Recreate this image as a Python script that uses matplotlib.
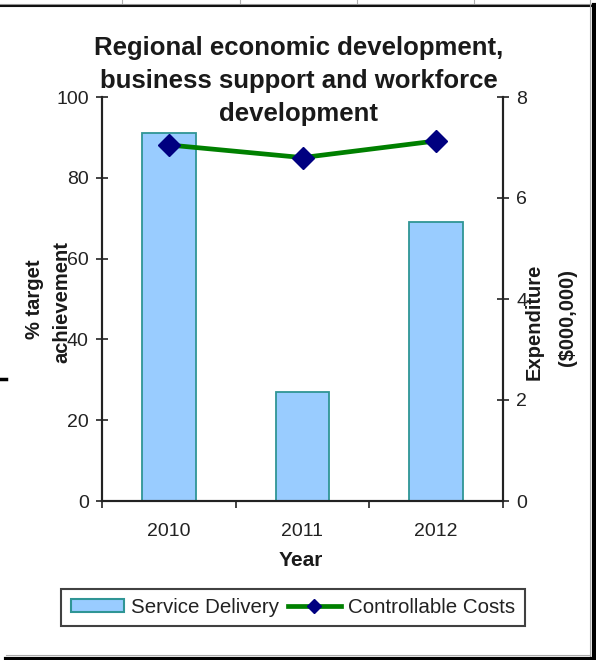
import matplotlib
matplotlib.use("Agg")
import matplotlib.pyplot as plt
from matplotlib.lines import Line2D
from matplotlib.patches import Patch

years = ["2010", "2011", "2012"]
service_delivery = [91, 27, 69]          # % target achievement
controllable_costs = [7.05, 6.8, 7.13]   # expenditure, $000,000
left_ticks = [0, 20, 40, 60, 80, 100]
right_ticks = [0, 2, 4, 6, 8]

W, H = 596, 660
FONT = "Liberation Sans"
plt.rcParams["font.family"] = [FONT, "DejaVu Sans"]

fig = plt.figure(figsize=(W / 100, H / 100), dpi=100)

def fx(px):
    return px / W

def fy(py):
    return 1 - py / H

ax = fig.add_axes([fx(102), fy(501), fx(503) - fx(102), fy(97) - fy(501)])
ax2 = ax.twinx()

x = list(range(1, len(years) + 1))
bar_fill = "#99CCFF"
bar_edge = "#2F9595"
ax.bar(x, service_delivery, width=0.4, color=bar_fill, edgecolor=bar_edge,
       linewidth=1.3, zorder=2)
ax2.plot(x, controllable_costs, color="#008000", linewidth=3.4,
         marker="D", markersize=11, markerfacecolor="#000080",
         markeredgecolor="#000080", zorder=3)

ax.set_xlim(0.5, len(years) + 0.5)
ax.set_ylim(0, 100)
ax2.set_ylim(0, 8)
ax.set_yticks(left_ticks)
ax2.set_yticks(right_ticks)

# category boundaries as major ticks, labels on minor ticks at centres
ax.set_xticks([0.5 + i for i in range(len(years) + 1)])
ax.set_xticklabels([])
ax.set_xticks(x, minor=True)
ax.set_xticklabels(years, minor=True)
ax.tick_params(axis="x", which="major", direction="out", length=5, width=1.2,
               color="#222222")
ax.tick_params(axis="x", which="minor", length=0, pad=16, labelsize=14,
               labelcolor="#222222")
ax.tick_params(axis="y", direction="inout", length=9, width=1.2, pad=5,
               labelsize=14, labelcolor="#222222", color="#222222")
ax2.tick_params(axis="y", direction="inout", length=9, width=1.2, pad=5,
                labelsize=14, labelcolor="#222222", color="#222222")

for a in (ax, ax2):
    a.spines["top"].set_visible(False)
    for s in ("left", "right", "bottom"):
        a.spines[s].set_linewidth(1.5)
        a.spines[s].set_color("#222222")
    a.patch.set_visible(False)

bold = dict(fontweight="bold", color="#1a1a1a", family=[FONT, "DejaVu Sans"])

fig.text(fx(299), fy(81),
         "Regional economic development,\nbusiness support and workforce\ndevelopment",
         ha="center", va="center", fontsize=18.5, linespacing=1.45, **bold)

fig.text(fx(35), fy(299), "% target", rotation=90, ha="center", va="center",
         fontsize=14.5, **bold)
fig.text(fx(62), fy(302), "achievement", rotation=90, ha="center", va="center",
         fontsize=14.5, **bold)
fig.text(fx(534), fy(322), "Expenditure", rotation=90, ha="center",
         va="center", fontsize=14.5, **bold)
fig.text(fx(567), fy(318), "($000,000)", rotation=90, ha="center",
         va="center", fontsize=14.5, **bold)
fig.text(fx(301), fy(561), "Year", ha="center", va="center", fontsize=15,
         **bold)

handles = [
    Patch(facecolor=bar_fill, edgecolor=bar_edge, linewidth=1.5),
    Line2D([], [], color="#008000", linewidth=3.4, marker="D", markersize=7,
           markerfacecolor="#000080", markeredgecolor="#000080"),
]
leg = fig.legend(handles, ["Service Delivery", "Controllable Costs"],
                 loc="center", bbox_to_anchor=(fx(293), fy(607.5)), ncol=2,
                 fontsize=14.8, frameon=True, fancybox=False, handlelength=2.6,
                 handleheight=0.6, handletextpad=0.35, columnspacing=0.4,
                 borderpad=0.45, borderaxespad=0)
leg.get_frame().set_edgecolor("#111111")
leg.get_frame().set_linewidth(1.5)
for t in leg.get_texts():
    t.set_color("#222222")

# sheet frame around the chart
def hline(y, x0, x1, lw, c):
    fig.add_artist(Line2D([fx(x0), fx(x1)], [fy(y), fy(y)], lw=lw, color=c,
                          transform=fig.transFigure))

def vline(xp, y0, y1, lw, c):
    fig.add_artist(Line2D([fx(xp), fx(xp)], [fy(y0), fy(y1)], lw=lw, color=c,
                          transform=fig.transFigure))

for gx in (122, 240, 357, 474):
    vline(gx, 0, 4, 0.8, "#b0b0b0")
hline(4, 0, 596, 0.8, "#999999")
hline(5.5, 0, 594, 1.5, "#111111")
vline(590, 0, 656, 0.8, "#aaaaaa")
vline(594, 4.5, 660, 3.0, "#000000")
hline(655, 6, 590, 0.8, "#aaaaaa")
hline(658.5, 6, 596, 3.0, "#000000")
hline(378.5, 0, 6, 2.5, "#000000")

fig.savefig("out.png", dpi=100)
